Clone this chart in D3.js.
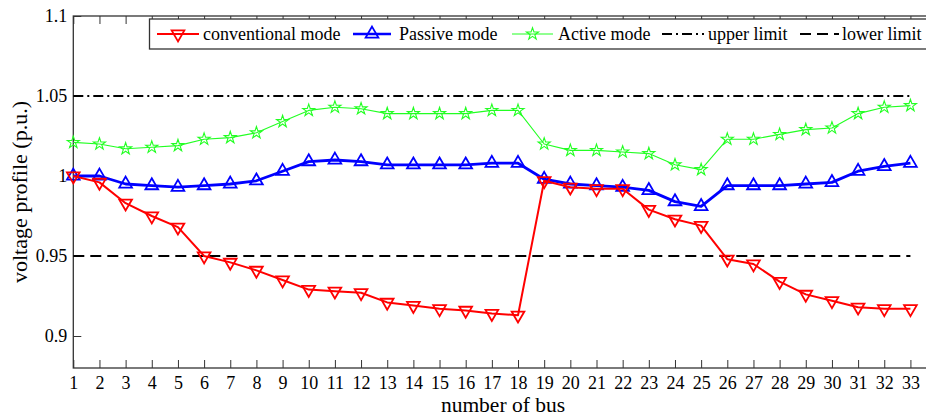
<!DOCTYPE html>
<html>
<head>
<meta charset="utf-8">
<script src="https://cdn.jsdelivr.net/npm/d3@7"></script>
<style>
  html, body { margin: 0; padding: 0; background: #fff; }
  svg { display: block; }
  svg text { font-family: "Times New Roman", "Liberation Serif", "DejaVu Serif", serif !important; fill: #000; }
</style>
</head>
<body>
<svg id="chart" width="926" height="418"></svg>
<script>
// ---- data ----
const buses = d3.range(1, 34);
const conventional = [1.000, 0.996, 0.983, 0.975, 0.968, 0.950, 0.946, 0.941, 0.935, 0.929,
  0.928, 0.927, 0.921, 0.919, 0.917, 0.916, 0.914, 0.913, 0.997, 0.993,
  0.992, 0.992, 0.979, 0.973, 0.969, 0.948, 0.945, 0.934, 0.926, 0.922,
  0.918, 0.917, 0.917];
const passive = [1.000, 1.000, 0.995, 0.994, 0.993, 0.994, 0.995, 0.997, 1.003, 1.009,
  1.010, 1.009, 1.007, 1.007, 1.007, 1.007, 1.008, 1.008, 0.998, 0.995,
  0.994, 0.993, 0.991, 0.984, 0.981, 0.994, 0.994, 0.994, 0.995, 0.996,
  1.003, 1.006, 1.008];
const active = [1.021, 1.020, 1.017, 1.018, 1.019, 1.023, 1.024, 1.027, 1.034, 1.041,
  1.043, 1.042, 1.039, 1.039, 1.039, 1.039, 1.041, 1.041, 1.020, 1.016,
  1.016, 1.015, 1.014, 1.007, 1.004, 1.023, 1.023, 1.026, 1.029, 1.030,
  1.039, 1.043, 1.044];
const upperLimit = 1.05;
const lowerLimit = 0.95;
const yTicks = [0.9, 0.95, 1, 1.05, 1.1];
const yTickLabels = ["0.9", "0.95", "1", "1.05", "1.1"];
const legendLabels = ["conventional mode", "Passive mode", "Active mode", "upper limit", "lower limit"];

// ---- layout ----
const FONT = '"Times New Roman", "Liberation Serif", serif';
const svg = d3.select("#chart");
const L = 73.3, T = 16, B = 368;
const x = d3.scaleLinear().domain([1, 34]).range([L, L + 33 * 26.16]);
const y = d3.scaleLinear().domain([0.88, 1.1]).range([B, T]);
const R = x(34);

// axes box
svg.append("rect").attr("x", L).attr("y", T).attr("width", R - L).attr("height", B - T)
  .attr("fill", "none").attr("stroke", "#333").attr("stroke-width", 1.3);

// bottom axis
const xAxis = d3.axisBottom(x).tickValues(buses).tickFormat(d3.format("d")).tickSize(-8).tickPadding(8);
const gx = svg.append("g").attr("transform", `translate(0,${B})`).call(xAxis)
  .attr("font-family", FONT).attr("font-size", 18);
gx.select(".domain").remove();
gx.selectAll("line").attr("stroke", "#333");
gx.selectAll("text").attr("fill", "#000");
// top ticks
const xTop = d3.axisTop(x).tickValues(buses).tickFormat("").tickSize(-8);
const gxt = svg.append("g").attr("transform", `translate(0,${T})`).call(xTop);
gxt.select(".domain").remove();
gxt.selectAll("line").attr("stroke", "#333");

// left axis
const yAxis = d3.axisLeft(y).tickValues(yTicks).tickFormat((d, i) => yTickLabels[i]).tickSize(-8).tickPadding(6);
const gy = svg.append("g").attr("transform", `translate(${L},0)`).call(yAxis)
  .attr("font-family", FONT).attr("font-size", 18);
gy.select(".domain").remove();
gy.selectAll("line").attr("stroke", "#333");
gy.selectAll("text").attr("fill", "#000");

// axis labels
svg.append("text").attr("x", 503).attr("y", 412).attr("text-anchor", "middle")
  .attr("font-family", FONT).attr("font-size", 21.5).text("number of bus");
svg.append("text").attr("transform", "translate(27,192) rotate(-90)").attr("text-anchor", "middle")
  .attr("font-family", FONT).attr("font-size", 22).text("voltage profile (p.u.)");

// limit lines
svg.append("line").attr("x1", x(1)).attr("x2", x(33)).attr("y1", y(upperLimit)).attr("y2", y(upperLimit))
  .attr("stroke", "#000").attr("stroke-width", 2).attr("stroke-dasharray", "10,4,2,4");
svg.append("line").attr("x1", x(1)).attr("x2", x(33)).attr("y1", y(lowerLimit)).attr("y2", y(lowerLimit))
  .attr("stroke", "#000").attr("stroke-width", 2).attr("stroke-dasharray", "11,6");

// series
const line = d3.line().x((d, i) => x(buses[i])).y(d => y(d));
const triDown = d3.symbol().type(d3.symbolTriangle).size(70);
const triUp = d3.symbol().type(d3.symbolTriangle).size(70);
const star = d3.symbol().type(d3.symbolStar).size(45);

function drawSeries(vals, color, width, sym, rot, mw) {
  svg.append("path").datum(vals).attr("d", line).attr("fill", "none")
    .attr("stroke", color).attr("stroke-width", width).attr("stroke-linejoin", "round");
  svg.append("g").selectAll("path").data(vals).join("path")
    .attr("d", sym)
    .attr("transform", (d, i) => `translate(${x(buses[i])},${y(d)}) rotate(${rot})`)
    .attr("fill", "none").attr("stroke", color).attr("stroke-width", mw);
}
drawSeries(active, "#22ff22", 1.1, star, 0, 1.1);
drawSeries(passive, "#0000ff", 2.8, triUp, 0, 1.8);
drawSeries(conventional, "#ff0000", 2, triDown, 180, 1.8);

// legend
const lg = svg.append("g");
lg.append("rect").attr("x", 149.5).attr("y", 19).attr("width", 800).attr("height", 30)
  .attr("fill", "#fff").attr("stroke", "#333").attr("stroke-width", 1.3);
const items = [
  {x1: 157, x2: 199, tx: 203, color: "#ff0000", w: 2, sym: triDown, rot: 180, mw: 1.8, dash: null},
  {x1: 353, x2: 391, tx: 399, color: "#0000ff", w: 2.5, sym: triUp, rot: 0, mw: 1.8, dash: null},
  {x1: 512, x2: 553, tx: 558, color: "#22ff22", w: 1.1, sym: star, rot: 0, mw: 1.1, dash: null},
  {x1: 662, x2: 704, tx: 708, color: "#000", w: 2, sym: null, dash: "10,4,2,4"},
  {x1: 800, x2: 839, tx: 842, color: "#000", w: 2, sym: null, dash: "11,6"}
];
items.forEach((it, i) => {
  const ly = 34;
  lg.append("line").attr("x1", it.x1).attr("x2", it.x2).attr("y1", ly).attr("y2", ly)
    .attr("stroke", it.color).attr("stroke-width", it.w).attr("stroke-dasharray", it.dash);
  if (it.sym) {
    lg.append("path").attr("d", it.sym)
      .attr("transform", `translate(${(it.x1 + it.x2) / 2},${ly}) rotate(${it.rot})`)
      .attr("fill", "none").attr("stroke", it.color).attr("stroke-width", it.mw);
  }
  lg.append("text").attr("x", it.tx).attr("y", 40)
    .attr("font-family", FONT).attr("font-size", 18).text(legendLabels[i]);
});
</script>
</body>
</html>
